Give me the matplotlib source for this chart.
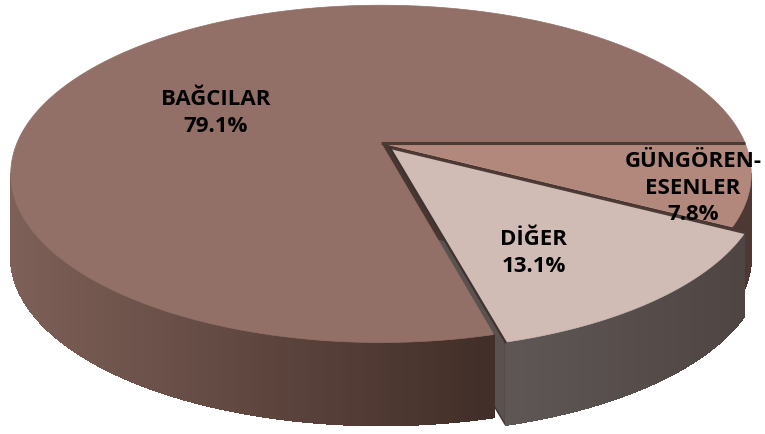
import numpy as np
import matplotlib
matplotlib.use('Agg')
import matplotlib.pyplot as plt
from matplotlib.patches import Polygon

# slice data (clockwise from 3 o'clock)
labels = ['GÜNGÖREN-\nESENLER', 'DİĞER', 'BAĞCILAR']
shares = [7.8, 13.1, 79.1]
explode = [0.0, 0.04, 0.0]
top_colors = ['#b2887c', '#d1bbb5', '#927067']

# fake 3d projection of the pie (pixel space)
cx, cy = 381, 143
A, B, k = 364, 163, 0.183
D = 83


def proj(t, r=1.0, off=(0.0, 0.0), down=0.0):
    t = np.radians(t)
    x = r * np.cos(t) + off[0]
    y = r * np.sin(t) + off[1]
    w = 1 + k * y
    return np.column_stack([cx + A * x / w, cy - B * y / w + down])


def lerp_color(c1, c2, f):
    a = np.array(matplotlib.colors.to_rgb(c1))
    b = np.array(matplotlib.colors.to_rgb(c2))
    return a + (b - a) * f


def draw_side(ax, t0, t1, off, c_left, c_right, x_left, x_right):
    ts = np.linspace(t0, t1, 120)
    top = proj(ts, off=off)
    bot = proj(ts, off=off, down=D)
    # base shape so the edge is smooth, then shaded strips over it
    ax.add_patch(Polygon(np.vstack([top, bot[::-1]]), closed=True,
                         fc=lerp_color(c_left, c_right, 0.5), ec='none'))
    for i in range(len(ts) - 1):
        quad = [top[i], top[i + 1], bot[i + 1], bot[i]]
        xm = (top[i, 0] + top[i + 1, 0]) / 2
        f = np.clip((xm - x_left) / (x_right - x_left), 0, 1)
        col = lerp_color(c_left, c_right, f)
        ax.add_patch(Polygon(quad, closed=True, fc=col, ec=col, lw=0.5,
                             antialiased=False))


fig = plt.figure(figsize=(7.65, 4.34), dpi=100)
ax = fig.add_axes([0, 0, 1, 1])
ax.set_xlim(0, 765)
ax.set_ylim(434, 0)
ax.axis('off')

cum = np.concatenate([[0], np.cumsum(shares)])
starts = -cum[:-1] * 3.6
ends = -cum[1:] * 3.6
offs = []
for i in range(3):
    mid = np.radians((starts[i] + ends[i]) / 2)
    offs.append((explode[i] * np.cos(mid), explode[i] * np.sin(mid)))

vis_left, vis_right = -180 + 10.57, -10.57

# radial face of DİĞER (seen through the gap)
apex = proj(0, r=0, off=offs[1])[0]
edge = proj(ends[1], off=offs[1])[0]
ax.add_patch(Polygon([apex, edge, edge + [0, D], apex + [0, D]],
                     fc='#5b5250', ec='#3e3330', lw=1.0))

# radial face of GÜNGÖREN at its lower edge
apex0 = proj(0, r=0)[0]
edge0 = proj(ends[0])[0]
ax.add_patch(Polygon([apex0, edge0, edge0 + [0, D], apex0 + [0, D]],
                     fc='#4a3631', ec='none'))

# outer sides of main pie
draw_side(ax, vis_left, ends[1], offs[2], '#7d6058', '#432f29', 14, 478)
draw_side(ax, ends[0], vis_right, offs[0], '#4a3530', '#4e3833', 700, 752)

# top faces of main pie
for i in [2, 0]:
    ts = np.linspace(starts[i], ends[i], 400)
    pts = np.vstack([proj(0, r=0, off=offs[i]), proj(ts, off=offs[i])])
    ax.add_patch(Polygon(pts, closed=True, fc=top_colors[i], ec=top_colors[i], lw=0.5))

line = np.vstack([proj(0, r=0), proj(0)])
ax.plot(line[:, 0], line[:, 1], color='#4b3b37', lw=2.2, solid_capstyle='butt')

# exploded slice
draw_side(ax, ends[1], starts[1], offs[1], '#605856', '#4f4644', 490, 740)
ts = np.linspace(starts[1], ends[1], 200)
pts = np.vstack([proj(0, r=0, off=offs[1]), proj(ts, off=offs[1])])
ax.add_patch(Polygon(pts, closed=True, fc=top_colors[1], ec=top_colors[1], lw=0.5))
edge_line = np.vstack([proj(starts[1], off=offs[1]), proj(0, r=0, off=offs[1]),
                       proj(ends[1], off=offs[1])])
ax.plot(edge_line[:2, 0], edge_line[:2, 1], color='#4b3b37', lw=1.3)
ax.plot(edge_line[1:, 0], edge_line[1:, 1], color='#3e3330', lw=1.6)

# data labels
txt = dict(ha='center', va='center', fontsize=16, fontweight='bold',
           family=['Open Sans', 'DejaVu Sans'], color='black', linespacing=1.35)
label_pos = [(693, 188), (534, 253), (216, 113)]
for lab, val, (lx, ly) in zip(labels, shares, label_pos):
    ax.text(lx, ly, f'{lab}\n{val:.1f}%', **txt)

fig.savefig('out.png', dpi=100)
